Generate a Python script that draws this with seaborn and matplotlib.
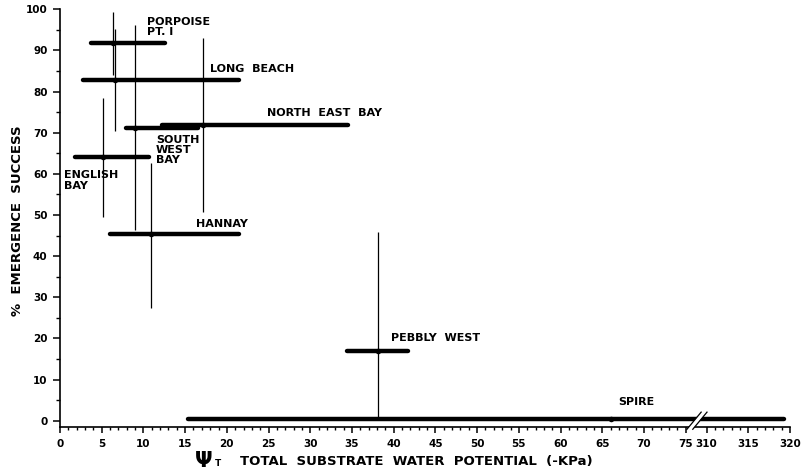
import numpy as np
import pandas as pd
import matplotlib
matplotlib.use("Agg")
import matplotlib.pyplot as plt
import seaborn as sns

# ---- data ----
sites = ["PORPOISE PT. I", "LONG BEACH", "NORTH EAST BAY", "SOUTH WEST BAY",
         "ENGLISH BAY", "HANNAY", "PEBBLY WEST", "SPIRE"]
x_mean = [6.3, 6.6, 17.1, 9.0, 5.2, 10.9, 38.1, 66.1]
x_lo = [3.7, 2.7, 12.2, 7.9, 1.8, 6.0, 34.4, 15.3]
x_hi = [12.6, 21.5, 34.5, 16.5, 10.7, 21.4, 41.7, 319.3]
y_mean = [91.8, 82.8, 71.9, 71.2, 64.2, 45.3, 16.9, 0.4]
y_lo = [84.0, 70.3, 50.8, 46.3, 49.6, 27.5, 0.6, 0.4]
y_hi = [99.4, 95.1, 93.0, 96.2, 78.5, 62.6, 45.8, 0.4]

label_text = ["PORPOISE\nPT. I", "LONG  BEACH", "NORTH  EAST  BAY", "SOUTH\nWEST\nBAY",
              "ENGLISH\nBAY", "HANNAY", "PEBBLY  WEST", "SPIRE"]
label_x = [10.4, 18.0, 24.8, 11.5, 0.5, 16.3, 39.7, 66.9]
label_y = [95.7, 85.4, 74.8, 65.8, 58.4, 47.8, 20.0, 4.5]

xticks_low = [0, 5, 10, 15, 20, 25, 30, 35, 40, 45, 50, 55, 60, 65, 70, 75]
xticks_high = [310, 315, 320]
yticks = [0, 10, 20, 30, 40, 50, 60, 70, 80, 90, 100]

# axis break: values above BREAK_LOW are shifted left by OFFSET
BREAK_LOW = 77.5
OFFSET = 232.5


def to_axis(v):
    v = np.asarray(v, dtype=float)
    return np.where(v > BREAK_LOW, v - OFFSET, v)


df = pd.DataFrame({
    "site": sites,
    "x": to_axis(x_mean), "xlo": to_axis(x_lo), "xhi": to_axis(x_hi),
    "y": y_mean, "ylo": y_lo, "yhi": y_hi,
})

sns.set_style("ticks")
plt.rcParams["font.family"] = ["DejaVu Sans"]
plt.rcParams["font.weight"] = "bold"
plt.rcParams["text.color"] = "black"
plt.rcParams["axes.edgecolor"] = "black"
plt.rcParams["xtick.color"] = "black"
plt.rcParams["ytick.color"] = "black"
plt.rcParams["xtick.labelcolor"] = "black"
plt.rcParams["ytick.labelcolor"] = "black"

fig = plt.figure(figsize=(8.02, 4.72), dpi=100)
ax = fig.add_axes([60 / 802, 1 - 426.7 / 472, 730 / 802, (426.7 - 9.3) / 472])

# horizontal ranges (thick) and vertical ranges (thin)
ax.hlines(df["y"], df["xlo"], df["xhi"], color="black", linewidth=3.2, capstyle="round")
ax.vlines(df["x"], df["ylo"], df["yhi"], color="black", linewidth=0.9)
sns.scatterplot(data=df, x="x", y="y", color="black", s=16, edgecolor="black",
                linewidth=0, ax=ax, legend=False, zorder=5)

for t, lx, ly in zip(label_text, label_x, label_y):
    ax.text(lx, ly, t, fontsize=8, fontweight="bold", ha="left", va="center",
            linespacing=1.05, color="black")

ax.set_xlim(0, to_axis([320])[0])
ax.set_ylim(-1.46, 100)
sns.despine(ax=ax)
for s in ["left", "bottom"]:
    ax.spines[s].set_linewidth(1.2)
    ax.spines[s].set_color("black")

xt = list(to_axis(xticks_low)) + list(to_axis(xticks_high))
ax.set_xticks(xt)
ax.set_xticklabels([str(v) for v in xticks_low + xticks_high])
minor_x = list(to_axis(np.arange(0, 76))) + list(to_axis(np.arange(310, 321)))
ax.set_xticks(minor_x, minor=True)
ax.set_yticks(yticks)
ax.set_yticklabels([str(v) for v in yticks])
ax.set_yticks(np.arange(5, 100, 10), minor=True)
ax.tick_params(axis="x", which="major", direction="out", length=4, width=1.1,
               pad=4.5, labelsize=7.5, colors="black")
ax.tick_params(axis="x", which="minor", direction="out", length=2.2, width=1.0,
               colors="black")
ax.tick_params(axis="y", which="major", direction="out", length=5, width=1.1,
               pad=4, labelsize=7.5, colors="black")
ax.tick_params(axis="y", which="minor", direction="out", length=3, width=1.0,
               colors="black")
for lab in ax.get_xticklabels() + ax.get_yticklabels():
    lab.set_fontweight("bold")
ax.set_xlabel("")
ax.set_ylabel("")

# break marks (double slash across bar and axis)
bx = BREAK_LOW - 1.5
for dx, col, lw in [(0.35, "white", 3.0), (0.0, "black", 0.9), (0.7, "black", 0.9)]:
    ax.plot([bx + dx - 0.9, bx + dx + 0.9], [-2.2, 2.2], color=col, lw=lw,
            clip_on=False, zorder=10, solid_capstyle="butt")

# axis titles
fig.text(18 / 802, 1 - 221 / 472, "%  EMERGENCE  SUCCESS", rotation=90,
         fontsize=9.5, fontweight="bold", ha="center", va="center")
fig.text(195 / 802, 1 - 461 / 472, "Ψ", fontsize=15, fontweight="bold",
         ha="left", va="center")
fig.text(215 / 802, 1 - 464 / 472, "T", fontsize=6.5, fontweight="bold",
         ha="left", va="center")
fig.text(240 / 802, 1 - 461 / 472, "TOTAL  SUBSTRATE  WATER  POTENTIAL  (-KPa)",
         fontsize=9.5, fontweight="bold", ha="left", va="center")

fig.savefig("out.png", dpi=100)
